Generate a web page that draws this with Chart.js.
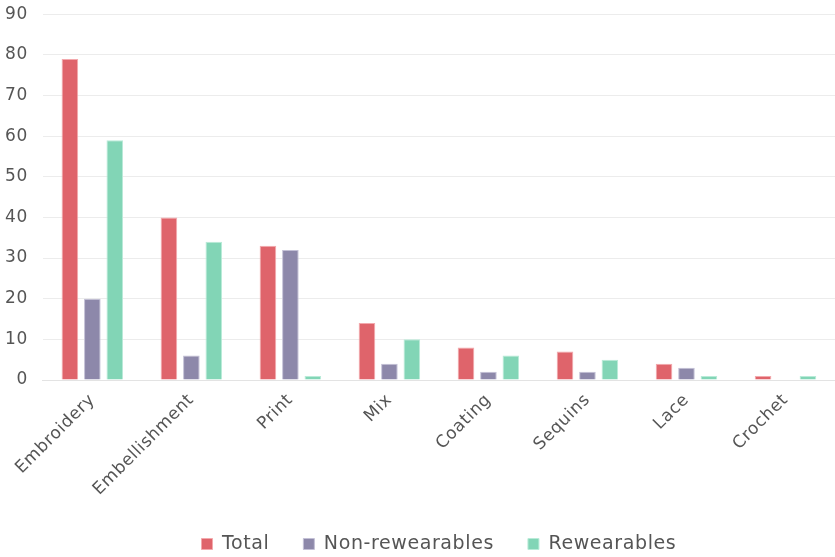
<!DOCTYPE html>
<html>
<head>
<meta charset="utf-8">
<script src="https://cdn.jsdelivr.net/npm/chart.js@4/dist/chart.umd.min.js"></script>
<style>
  html, body { margin: 0; padding: 0; background: #fff; overflow: hidden; }
  /* slightly taller canvas, pulled up, so the plot top lines up */
  #wrap { width: 835px; height: 568px; margin-top: -11px; }
</style>
</head>
<body>
<div id="wrap"><canvas id="chart"></canvas></div>
<script>
const categories = ['Embroidery', 'Embellishment', 'Print', 'Mix', 'Coating', 'Sequins', 'Lace', 'Crochet'];
const totalValues = [79, 40, 33, 14, 8, 7, 4, 1];
const nonRewearableValues = [20, 6, 32, 4, 2, 2, 3, 0];
const rewearableValues = [59, 34, 1, 10, 6, 5, 1, 1];

const fontFamily = '"DejaVu Sans", sans-serif';

// the reference type is a bit wider, so add some tracking to the canvas text
const letterSpacingPlugin = {
    id: 'letterSpacing',
    beforeUpdate(chart) { chart.ctx.letterSpacing = '0.6px'; },
    beforeDraw(chart) { chart.ctx.letterSpacing = '0.6px'; }
};

const ctx = document.getElementById('chart').getContext('2d');
new Chart(ctx, {
    type: 'bar',
    data: {
        labels: categories,
        datasets: [
            {
                label: 'Total',
                data: totalValues,
                backgroundColor: '#df646b',
                borderColor: '#f3a9ad',
                borderWidth: 1
            },
            {
                label: 'Non-rewearables',
                data: nonRewearableValues,
                backgroundColor: '#8d88aa',
                borderColor: '#c3c0d6',
                borderWidth: 1
            },
            {
                label: 'Rewearables',
                data: rewearableValues,
                backgroundColor: '#82d5b6',
                borderColor: '#b9ebd8',
                borderWidth: 1
            }
        ]
    },
    plugins: [letterSpacingPlugin],
    options: {
        responsive: true,
        maintainAspectRatio: false,
        animation: false,
        layout: {
            padding: { top: 0, right: 0, left: -10, bottom: -6.5 }
        },
        datasets: {
            bar: {
                categoryPercentage: 0.68,
                barPercentage: 0.74
            }
        },
        plugins: {
            legend: {
                position: 'bottom',
                fullSize: false,
                labels: {
                    boxWidth: 11,
                    boxHeight: 11,
                    padding: 34,
                    color: '#555',
                    font: { family: fontFamily, size: 19 }
                }
            },
            tooltip: { enabled: false }
        },
        scales: {
            y: {
                min: 0,
                max: 90,
                ticks: {
                    stepSize: 10,
                    color: '#555',
                    padding: 15,
                    font: { family: fontFamily, size: 17 }
                },
                grid: {
                    color: '#ececec',
                    drawTicks: false
                },
                border: { display: false }
            },
            x: {
                ticks: {
                    color: '#555',
                    maxRotation: 45,
                    minRotation: 45,
                    padding: 2,
                    font: { family: fontFamily, size: 17 }
                },
                grid: { display: false },
                border: { color: '#e3e3e3' },
                afterFit(axis) { axis.height = 120.5; }
            }
        }
    }
});
</script>
</body>
</html>
